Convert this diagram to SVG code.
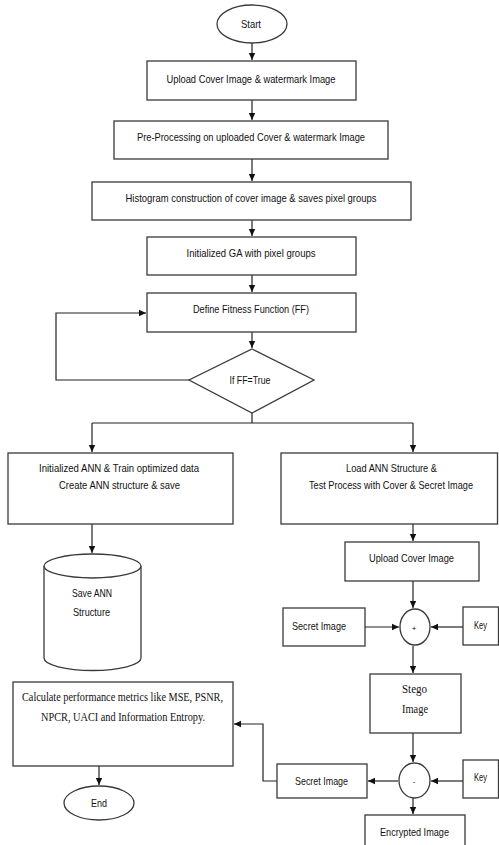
<svg xmlns="http://www.w3.org/2000/svg" width="499" height="845" viewBox="0 0 499 845">
  <defs>
    <marker id="arrow" markerUnits="userSpaceOnUse" markerWidth="8" markerHeight="8" refX="7" refY="4" orient="auto">
      <path d="M0,0.8 L7,4 L0,7.2 Z" fill="#111"/>
    </marker>
    <style>
      .shape { fill: #fff; stroke: #3a3a3a; stroke-width: 1.3; }
      .edge { fill: none; stroke: #222; stroke-width: 1.2; }
      .lbl { font-family: "Liberation Sans", Arial, sans-serif; font-size: 10.5px; fill: #111; text-anchor: middle; }
      .serif { font-family: "Liberation Serif", "Times New Roman", serif; font-size: 11.5px; fill: #111; text-anchor: middle; }
    </style>
  </defs>
  <rect width="499" height="845" fill="#fff"/>

  <!-- connectors -->
  <g id="connectors">
    <path class="edge" d="M252,43 V60" marker-end="url(#arrow)"/>
    <path class="edge" d="M252,100 V120" marker-end="url(#arrow)"/>
    <path class="edge" d="M252,159 V181" marker-end="url(#arrow)"/>
    <path class="edge" d="M252,220 V236" marker-end="url(#arrow)"/>
    <path class="edge" d="M252,275 V292" marker-end="url(#arrow)"/>
    <path class="edge" d="M252,332 V348" marker-end="url(#arrow)"/>
    <path class="edge" d="M189,380 H56 V313 H146" marker-end="url(#arrow)"/>
    <path class="edge" d="M252,413 V423 M92,423 H413"/>
    <path class="edge" d="M92,423 V452" marker-end="url(#arrow)"/>
    <path class="edge" d="M413,423 V452" marker-end="url(#arrow)"/>
    <path class="edge" d="M92,524 V553" marker-end="url(#arrow)"/>
    <path class="edge" d="M99,766 V785" marker-end="url(#arrow)"/>
    <path class="edge" d="M413,524 V541" marker-end="url(#arrow)"/>
    <path class="edge" d="M413,581 V608" marker-end="url(#arrow)"/>
    <path class="edge" d="M365,627 H399" marker-end="url(#arrow)"/>
    <path class="edge" d="M463,627 H431" marker-end="url(#arrow)"/>
    <path class="edge" d="M413,646 V673" marker-end="url(#arrow)"/>
    <path class="edge" d="M413,733 V762" marker-end="url(#arrow)"/>
    <path class="edge" d="M463,781 H431" marker-end="url(#arrow)"/>
    <path class="edge" d="M398,781 H368" marker-end="url(#arrow)"/>
    <path class="edge" d="M413,798 V814" marker-end="url(#arrow)"/>
    <path class="edge" d="M277,781 H263 V724 H234" marker-end="url(#arrow)"/>
  </g>

  <g id="start">
    <ellipse class="shape" cx="252" cy="24" rx="35" ry="19"/>
    <text class="lbl" x="251" y="28" textLength="20" lengthAdjust="spacingAndGlyphs">Start</text>
  </g>

  <g id="upload-images">
    <rect class="shape" x="147" y="61" width="209" height="39"/>
    <text class="lbl" x="251" y="83" textLength="169" lengthAdjust="spacingAndGlyphs">Upload Cover Image &amp; watermark Image</text>
  </g>

  <g id="pre-processing">
    <rect class="shape" x="114" y="121" width="274" height="38"/>
    <text class="lbl" x="251" y="141" textLength="228" lengthAdjust="spacingAndGlyphs">Pre-Processing on uploaded Cover &amp; watermark Image</text>
  </g>

  <g id="histogram">
    <rect class="shape" x="92" y="182" width="319" height="38"/>
    <text class="lbl" x="251" y="202" textLength="251" lengthAdjust="spacingAndGlyphs">Histogram construction of cover image &amp; saves pixel groups</text>
  </g>

  <g id="init-ga">
    <rect class="shape" x="147" y="237" width="209" height="38"/>
    <text class="lbl" x="251" y="257" textLength="129" lengthAdjust="spacingAndGlyphs">Initialized GA with pixel groups</text>
  </g>

  <g id="fitness">
    <rect class="shape" x="147" y="293" width="209" height="39"/>
    <text class="lbl" x="251" y="313" textLength="116" lengthAdjust="spacingAndGlyphs">Define Fitness Function (FF)</text>
  </g>

  <g id="decision">
    <polygon class="shape" points="252,349 314,380 252,413 189,380"/>
    <text class="lbl" x="250" y="384" textLength="41" lengthAdjust="spacingAndGlyphs">If FF=True</text>
  </g>

  <g id="train-ann">
    <rect class="shape" x="8" y="453" width="225" height="71"/>
    <text class="lbl" x="119" y="472" textLength="160" lengthAdjust="spacingAndGlyphs">Initialized ANN &amp; Train optimized data</text>
    <text class="lbl" x="119.5" y="489" textLength="121" lengthAdjust="spacingAndGlyphs">Create ANN structure &amp; save</text>
  </g>

  <g id="save-structure">
    <path class="shape" d="M44,566 A48.5,12 0 0 1 141,566 V658 A48.5,12.5 0 0 1 44,658 Z"/>
    <path class="shape" d="M44,566 A48.5,12 0 0 0 141,566" fill="none"/>
    <text class="lbl" x="92" y="597" textLength="40" lengthAdjust="spacingAndGlyphs">Save ANN</text>
    <text class="lbl" x="91.5" y="616" textLength="37" lengthAdjust="spacingAndGlyphs">Structure</text>
  </g>

  <g id="metrics">
    <rect class="shape" x="13" y="682" width="220" height="84"/>
    <text class="serif" x="122.5" y="701" textLength="201" lengthAdjust="spacingAndGlyphs">Calculate performance metrics like MSE, PSNR,</text>
    <text class="serif" x="123" y="721" textLength="164" lengthAdjust="spacingAndGlyphs">NPCR, UACI and Information Entropy.</text>
  </g>

  <g id="end">
    <ellipse class="shape" cx="99" cy="803" rx="35" ry="17"/>
    <text class="lbl" x="99" y="807" textLength="16" lengthAdjust="spacingAndGlyphs">End</text>
  </g>

  <g id="load-ann">
    <rect class="shape" x="281" y="453" width="216.5" height="71"/>
    <text class="lbl" x="391.5" y="472" textLength="91" lengthAdjust="spacingAndGlyphs">Load ANN Structure &amp;</text>
    <text class="lbl" x="391" y="489" textLength="164" lengthAdjust="spacingAndGlyphs">Test Process with Cover &amp; Secret Image</text>
  </g>

  <g id="upload-cover">
    <rect class="shape" x="345" y="542" width="134" height="39"/>
    <text class="lbl" x="411.5" y="562" textLength="85" lengthAdjust="spacingAndGlyphs">Upload Cover Image</text>
  </g>

  <g id="secret-in">
    <rect class="shape" x="283" y="608" width="82" height="38"/>
    <text class="lbl" x="319" y="630" textLength="54" lengthAdjust="spacingAndGlyphs">Secret Image</text>
  </g>

  <g id="embed">
    <ellipse class="shape" cx="415" cy="627" rx="15" ry="18"/>
    <text class="lbl" x="414" y="631" style="font-size:8px">+</text>
  </g>

  <g id="key-embed">
    <rect class="shape" x="463" y="607" width="35.5" height="38"/>
    <text class="lbl" x="480.5" y="629" textLength="13" lengthAdjust="spacingAndGlyphs">Key</text>
  </g>

  <g id="stego">
    <rect class="shape" x="370" y="674" width="91" height="59"/>
    <text class="serif" x="414.5" y="693" textLength="25" lengthAdjust="spacingAndGlyphs">Stego</text>
    <text class="serif" x="415" y="713" textLength="26" lengthAdjust="spacingAndGlyphs">Image</text>
  </g>

  <g id="extract">
    <ellipse class="shape" cx="414.5" cy="780.5" rx="15.5" ry="17.5"/>
    <text class="lbl" x="414" y="784" style="font-size:8px">-</text>
  </g>

  <g id="key-extract">
    <rect class="shape" x="463" y="760" width="35.5" height="38"/>
    <text class="lbl" x="480.5" y="781" textLength="13" lengthAdjust="spacingAndGlyphs">Key</text>
  </g>

  <g id="secret-out">
    <rect class="shape" x="277" y="764" width="90" height="34"/>
    <text class="lbl" x="321.5" y="785" textLength="53" lengthAdjust="spacingAndGlyphs">Secret Image</text>
  </g>

  <g id="encrypted">
    <rect class="shape" x="365" y="815" width="100" height="45"/>
    <text class="lbl" x="414.5" y="836" textLength="69" lengthAdjust="spacingAndGlyphs">Encrypted Image</text>
  </g>
</svg>
